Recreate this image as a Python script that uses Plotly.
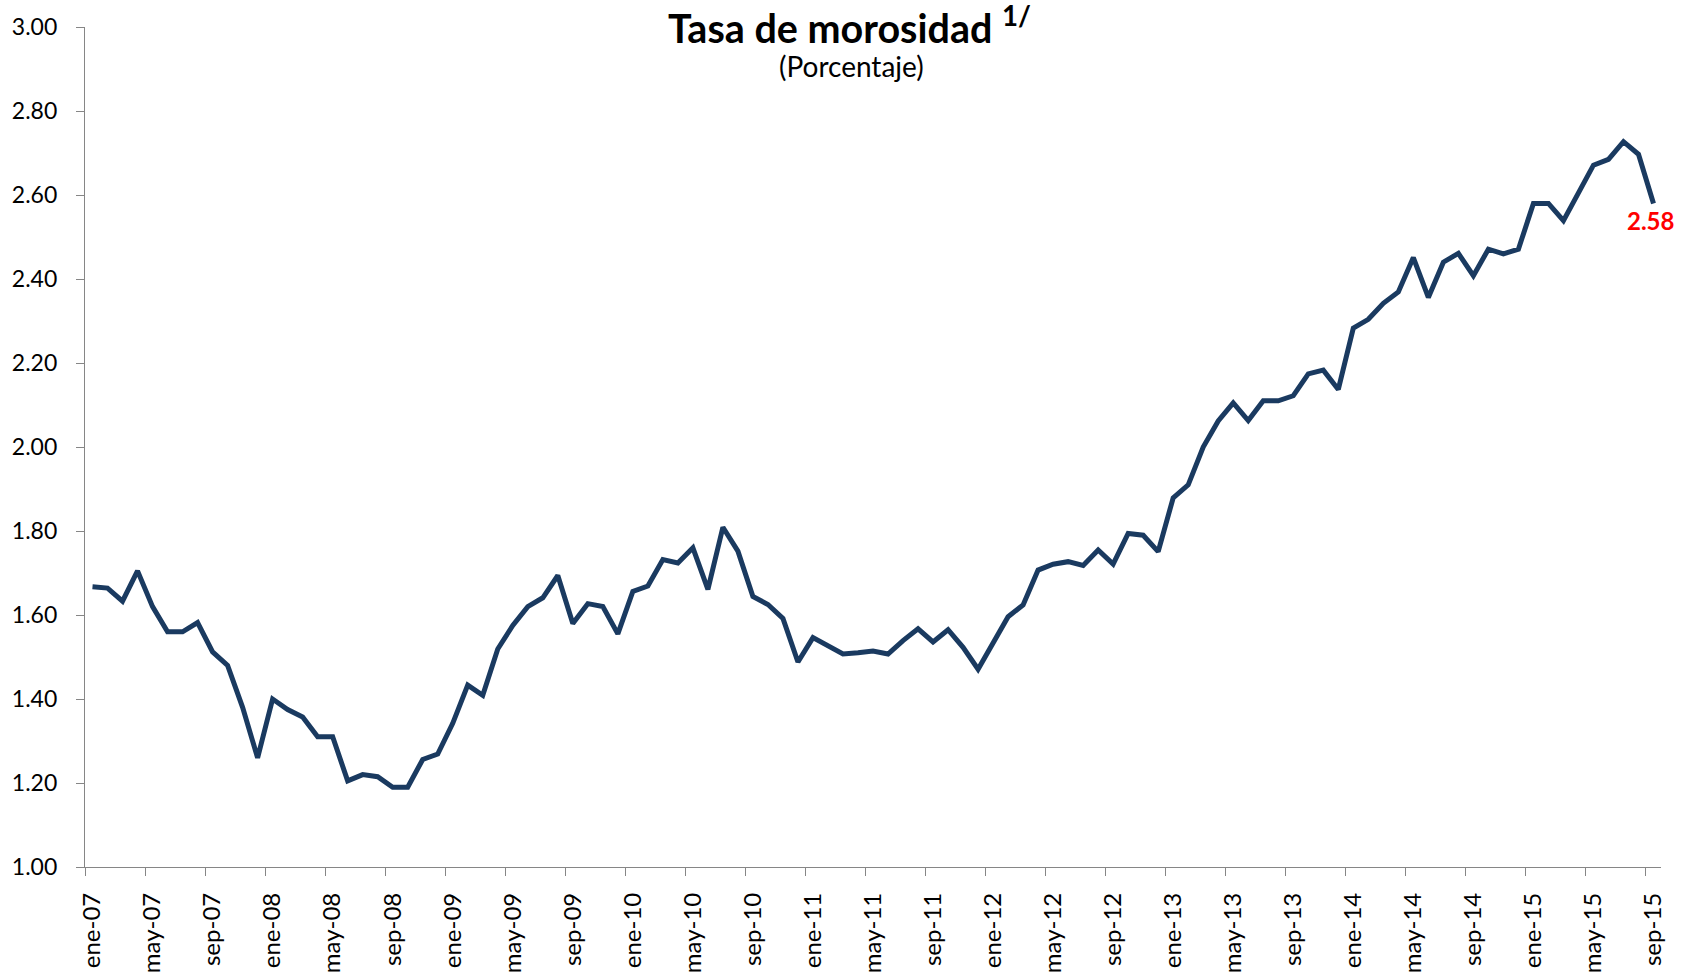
import plotly.graph_objects as go

# Month categories ene-07 ... sep-15
month_names = ["ene", "feb", "mar", "abr", "may", "jun", "jul", "ago", "sep", "oct", "nov", "dic"]
years = ["07", "08", "09", "10", "11", "12", "13", "14", "15"]
categories = [f"{m}-{y}" for y in years for m in month_names][:105]

# Tasa de morosidad (%), monthly
rate_2007 = [1.667, 1.664, 1.633, 1.705, 1.620, 1.560, 1.560, 1.582, 1.512, 1.480, 1.380, 1.260]
rate_2008 = [1.400, 1.375, 1.357, 1.310, 1.310, 1.205, 1.220, 1.215, 1.190, 1.190, 1.256, 1.269]
rate_2009 = [1.342, 1.433, 1.409, 1.519, 1.575, 1.620, 1.641, 1.694, 1.580, 1.627, 1.620, 1.555]
rate_2010 = [1.656, 1.669, 1.732, 1.724, 1.760, 1.661, 1.809, 1.752, 1.644, 1.625, 1.592, 1.488]
rate_2011 = [1.546, 1.525, 1.507, 1.510, 1.514, 1.507, 1.539, 1.567, 1.536, 1.565, 1.523, 1.471]
rate_2012 = [1.536, 1.596, 1.624, 1.707, 1.721, 1.727, 1.718, 1.755, 1.721, 1.794, 1.790, 1.751]
rate_2013 = [1.879, 1.910, 2.000, 2.062, 2.105, 2.063, 2.110, 2.110, 2.122, 2.174, 2.183, 2.137]
rate_2014 = [2.283, 2.304, 2.342, 2.369, 2.451, 2.356, 2.440, 2.461, 2.408, 2.471, 2.460, 2.471]
rate_2015 = [2.580, 2.580, 2.539, 2.602, 2.671, 2.685, 2.727, 2.697, 2.580]
values = rate_2007 + rate_2008 + rate_2009 + rate_2010 + rate_2011 + rate_2012 + rate_2013 + rate_2014 + rate_2015

y_ticks = [1.00, 1.20, 1.40, 1.60, 1.80, 2.00, 2.20, 2.40, 2.60, 2.80, 3.00]

title_text = "<b>Tasa de morosidad <sup>1/</sup></b>"
subtitle_text = "(Porcentaje)"

FONT = "Lato"
AXIS_GRAY = "#868686"
LINE_COLOR = "#1A3A60"

fig = go.Figure()
fig.add_trace(go.Scatter(
    x=categories, y=values, mode="lines",
    line=dict(color=LINE_COLOR, width=5),
    hoverinfo="x+y", showlegend=False,
))

fig.update_layout(
    width=1690, height=976,
    margin=dict(l=85, r=29, t=27, b=109, autoexpand=False),
    paper_bgcolor="white", plot_bgcolor="white",
    font=dict(family=FONT, color="black"),
    showlegend=False,
)

fig.update_xaxes(
    type="category",
    automargin=False,
    range=[-0.5, len(categories) - 0.5],
    tickmode="linear", tick0=0, dtick=4,
    tickson="boundaries",
    ticks="outside", ticklen=8, tickwidth=1.3, tickcolor=AXIS_GRAY,
    showline=True, linecolor=AXIS_GRAY, linewidth=1.3,
    showgrid=False, zeroline=False,
    tickangle=-90,
    tickfont=dict(family=FONT, size=24, color="black"),
    ticklabelstandoff=15,
)

fig.update_yaxes(
    automargin=False,
    range=[1.0, 3.0],
    tickmode="array", tickvals=y_ticks,
    tickformat=".2f",
    ticks="outside", ticklen=8, tickwidth=1.3, tickcolor=AXIS_GRAY,
    showline=True, linecolor=AXIS_GRAY, linewidth=1.3,
    showgrid=False, zeroline=False,
    tickfont=dict(family=FONT, size=23, color="black"),
    ticklabelstandoff=14,
)

# Title and subtitle
fig.add_annotation(
    text=title_text, xref="paper", yref="paper",
    x=(849 - 85) / 1576, y=(867 - 25) / 840,
    xanchor="center", yanchor="middle", showarrow=False,
    font=dict(family=FONT, size=39.5, color="black"),
)
fig.add_annotation(
    text=subtitle_text, xref="paper", yref="paper",
    x=(851 - 85) / 1576, y=(867 - 66) / 840,
    xanchor="center", yanchor="middle", showarrow=False,
    font=dict(family=FONT, size=28, color="black"),
)

# Last value label
fig.add_annotation(
    x=categories[-1], y=values[-1],
    text=f"<b>{values[-1]:.2f}</b>",
    showarrow=False, xanchor="center", yanchor="middle",
    xshift=-3, yshift=-17,
    font=dict(family=FONT, size=24, color="#FF0000"),
)

fig.write_html(
    "out.html",
    config={"displayModeBar": False},
    post_script="document.body.style.margin='0';",
)
